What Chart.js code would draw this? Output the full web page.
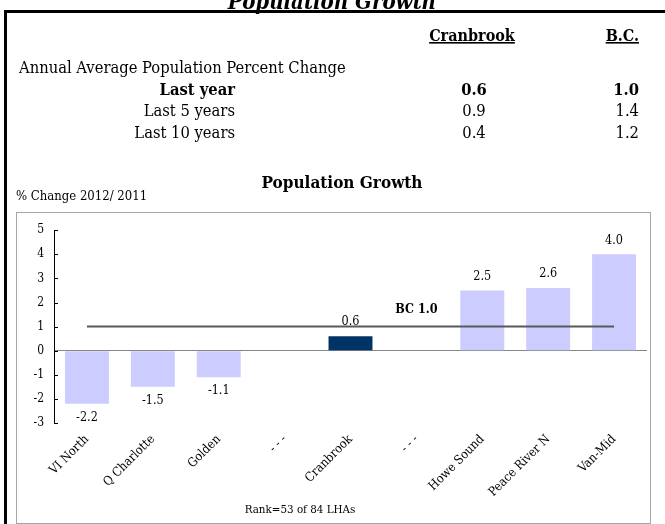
<!DOCTYPE html>
<html><head><meta charset="utf-8">
<script src="https://cdn.jsdelivr.net/npm/chart.js@4.4.1/dist/chart.umd.min.js"></script>
<style>
html,body{margin:0;padding:0;background:#fff;}
body{width:665px;height:524px;overflow:hidden;position:relative;}
#box{position:absolute;left:16px;top:212px;width:635px;height:312px;border:1px solid #a6a6a6;box-sizing:border-box;}
#cv{position:absolute;left:17px;top:213px;}
#ov{position:absolute;left:0;top:0;pointer-events:none;}
</style></head>
<body>
<div id="box"></div>
<canvas id="cv" width="632" height="309"></canvas>
<svg id="ov" width="665" height="524" xmlns="http://www.w3.org/2000/svg"></svg>
<script>
// ---- data ----
const categories = ['VI North', 'Q Charlotte', 'Golden', '- - -', 'Cranbrook', '- - -', 'Howe Sound', 'Peace River N', 'Van-Mid'];
const growth = [-2.2, -1.5, -1.1, null, 0.6, null, 2.5, 2.6, 4.0];
const bcAverage = [1.0, 1.0, 1.0, 1.0, 1.0, 1.0, 1.0, 1.0, 1.0];
const bcName = 'BC';
const highlight = 'Cranbrook';
const yMin = -3, yMax = 5, yStep = 1;
const tableRows = ['Last year', 'Last 5 years', 'Last 10 years'];
const cranbrookChange = [0.6, 0.9, 0.4];
const bcChange = [1.0, 1.4, 1.2];
const tableHeads = ['Cranbrook', 'B.C.'];
const tableCaption = 'Annual Average Population Percent Change';
const pageTitle = 'Population Growth';
const chartTitle = 'Population Growth';
const yCaption = '% Change 2012/ 2011';
const rankNote = 'Rank=53 of 84 LHAs';

const SERIF = '"DejaVu Serif Condensed", "DejaVu Serif", serif';

// ---- static text (svg) ----
const svg = document.getElementById('ov');
const NS = 'http://www.w3.org/2000/svg';
function txt(s, x, y, o) {
  o = o || {};
  const t = document.createElementNS(NS, 'text');
  t.setAttribute('x', x); t.setAttribute('y', y);
  t.setAttribute('font-family', SERIF);
  t.setAttribute('font-size', o.size || 15);
  if (o.bold) t.setAttribute('font-weight', 'bold');
  if (o.italic) t.setAttribute('font-style', 'italic');
  if (o.anchor) t.setAttribute('text-anchor', o.anchor);
  if (o.underline) t.setAttribute('text-decoration', 'underline');
  t.setAttribute('fill', '#000');
  t.textContent = s;
  svg.appendChild(t);
  return t;
}
txt(pageTitle, 332, 9, {size: 22, bold: true, italic: true, anchor: 'middle'});
const fr = document.createElementNS(NS, 'rect');
fr.setAttribute('x', 5.5); fr.setAttribute('y', 11.5);
fr.setAttribute('width', 720); fr.setAttribute('height', 600);
fr.setAttribute('fill', 'none'); fr.setAttribute('stroke', '#000'); fr.setAttribute('stroke-width', 3);
svg.appendChild(fr);

txt(tableHeads[0], 472, 41, {size: 16, bold: true, anchor: 'middle', underline: true});
txt(tableHeads[1], 639, 41, {size: 16, bold: true, anchor: 'end', underline: true});
txt(tableCaption, 19, 73, {size: 16.4});
const rowY = [94.5, 116, 137.5];
tableRows.forEach((r, i) => {
  const b = i === 0;
  txt(r, 235, rowY[i], {size: 16.4, bold: b, anchor: 'end'});
  txt(cranbrookChange[i].toFixed(1), 474, rowY[i], {size: 16.4, bold: b, anchor: 'middle'});
  txt(bcChange[i].toFixed(1), 639, rowY[i], {size: 16.4, bold: b, anchor: 'end'});
});
txt(chartTitle, 342, 188, {size: 17, bold: true, anchor: 'middle'});
txt(yCaption, 16, 200, {size: 13});
txt(rankNote, 300, 513, {size: 11.5, anchor: 'middle'});

// ---- chart ----
const valueLabels = {
  id: 'valueLabels',
  afterDatasetsDraw(chart) {
    const ctx = chart.ctx;
    ctx.save();
    ctx.fillStyle = '#000';
    ctx.textAlign = 'center';
    ctx.textBaseline = 'middle';
    ctx.font = '12.5px ' + SERIF;
    const bars = chart.getDatasetMeta(1).data;
    bars.forEach((el, i) => {
      const v = growth[i];
      if (v === null) return;
      ctx.fillText(v.toFixed(1), el.x, v >= 0 ? el.y - 14 : el.y + 14);
    });
    const pts = chart.getDatasetMeta(0).data;
    const p = pts[5];
    ctx.font = 'bold 12.5px ' + SERIF;
    ctx.fillText(bcName + ' ' + bcAverage[5].toFixed(1), p.x, p.y - 17);
    // inward y ticks
    const ys = chart.scales.y;
    ctx.strokeStyle = '#000';
    ctx.lineWidth = 1;
    ys.ticks.forEach(t => {
      const py = Math.round(ys.getPixelForValue(t.value)) + 0.5;
      ctx.beginPath();
      ctx.moveTo(ys.right, py);
      ctx.lineTo(ys.right + 4, py);
      ctx.stroke();
    });
    ctx.restore();
  }
};

new Chart(document.getElementById('cv'), {
  type: 'bar',
  data: {
    labels: categories,
    datasets: [
      {type: 'line', label: bcName, data: bcAverage, borderColor: '#595959', borderWidth: 2,
       pointRadius: 0, fill: false, tension: 0, order: 0},
      {type: 'bar', label: 'Growth', data: growth,
       backgroundColor: categories.map(c => c === highlight ? '#003366' : '#CCCCFF'),
       barPercentage: 0.667, categoryPercentage: 1, order: 1}
    ]
  },
  options: {
    responsive: false, animation: false, devicePixelRatio: 1,
    layout: {padding: {top: 14, right: 2, left: 0, bottom: 0}},
    plugins: {legend: {display: false}, tooltip: {enabled: false}, title: {display: false}},
    scales: {
      x: {
        grid: {display: false, drawTicks: false}, border: {display: false},
        ticks: {minRotation: 45, maxRotation: 45, autoSkip: false, padding: 9, color: '#000',
                font: {family: SERIF, size: 12.5}},
        afterFit(s) { s.height = 99; }
      },
      y: {
        min: yMin, max: yMax,
        ticks: {stepSize: yStep, color: '#000', padding: 10, font: {family: SERIF, size: 12}},
        grid: {drawTicks: false, color: c => (c.tick && c.tick.value === 0) ? '#868686' : 'rgba(0,0,0,0)', lineWidth: 1},
        border: {display: true, color: '#000', width: 1},
        afterFit(s) { s.width = 37; }
      }
    }
  },
  plugins: [valueLabels]
});
</script>
</body></html>
